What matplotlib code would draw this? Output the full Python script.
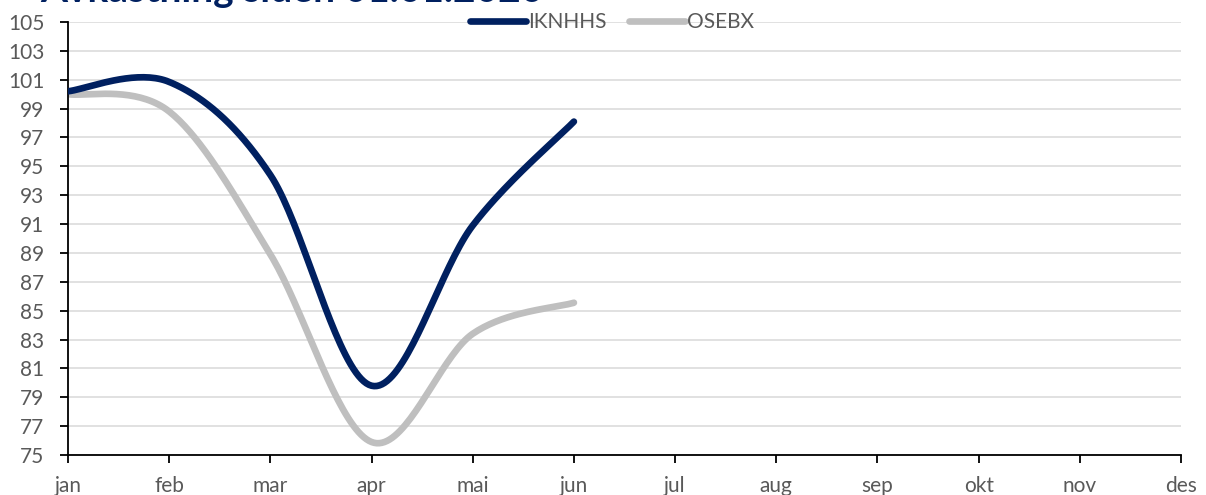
import numpy as np
import matplotlib.pyplot as plt

plt.rcParams['font.family'] = ['Lato', 'DejaVu Sans']

months = ["jan", "feb", "mar", "apr", "mai", "jun", "jul", "aug", "sep", "okt", "nov", "des"]
iknhhs = [100.2, 100.85, 94.4, 79.8, 90.9, 98.1]
osebx = [100.0, 98.8, 88.9, 75.9, 83.4, 85.55]
yticks = list(range(75, 106, 2))


def smooth(ys, n=40):
    # Excel-style smoothed line (bezier, control points at 1/6 of neighbour span)
    p = np.column_stack([np.arange(len(ys)), ys]).astype(float)
    out = []
    for i in range(len(p) - 1):
        p0 = p[i - 1] if i > 0 else p[i]
        p1, p2 = p[i], p[i + 1]
        p3 = p[i + 2] if i + 2 < len(p) else p[i + 1]
        c1 = p1 + (p2 - p0) / 6
        c2 = p2 - (p3 - p1) / 6
        t = np.linspace(0, 1, n)[:, None]
        seg = (1 - t) ** 3 * p1 + 3 * (1 - t) ** 2 * t * c1 + 3 * (1 - t) * t ** 2 * c2 + t ** 3 * p2
        out.append(seg if i == 0 else seg[1:])
    out = np.vstack(out)
    return out[:, 0], out[:, 1]


fig = plt.figure(figsize=(12.06, 4.95), dpi=100)
ax = fig.add_axes([68 / 1206, 1 - 455 / 495, (1181 - 68) / 1206, (455 - 22) / 495])

x, y = smooth(iknhhs)
ax.plot(x, y, color="#002060", lw=4.8, solid_capstyle="round", label="IKNHHS", zorder=3)
x, y = smooth(osebx)
ax.plot(x, y, color="#BFBFBF", lw=4.8, solid_capstyle="round", label="OSEBX", zorder=2)

ax.set_xlim(0, 11)
ax.set_ylim(75, 105)
ax.set_xticks(range(12))
ax.set_xticklabels(months)
ax.set_yticks(yticks)
ax.grid(axis="y", color="#D9D9D9", lw=1.1)
ax.set_axisbelow(True)
for s in ["top", "right"]:
    ax.spines[s].set_visible(False)
for s in ["left", "bottom"]:
    ax.spines[s].set_linewidth(1.3)
ax.tick_params(axis="both", direction="out", length=6, width=1.3, labelsize=15, labelcolor="#595959")
ax.tick_params(axis="y", pad=11)
ax.tick_params(axis="x", pad=9)

leg = fig.legend(loc="center", bbox_to_anchor=(612 / 1206, 1 - 22 / 495), ncol=2, frameon=False,
                 fontsize=15, handlelength=2.7, handletextpad=0.1, columnspacing=1.05,
                 labelcolor="#595959")

fig.text(40 / 1206, 1 - 2 / 495, "Avkastning siden 01.01.2020", fontsize=28, fontweight="bold",
         color="#002060", va="baseline", ha="left")

fig.savefig("out.png", dpi=100)
